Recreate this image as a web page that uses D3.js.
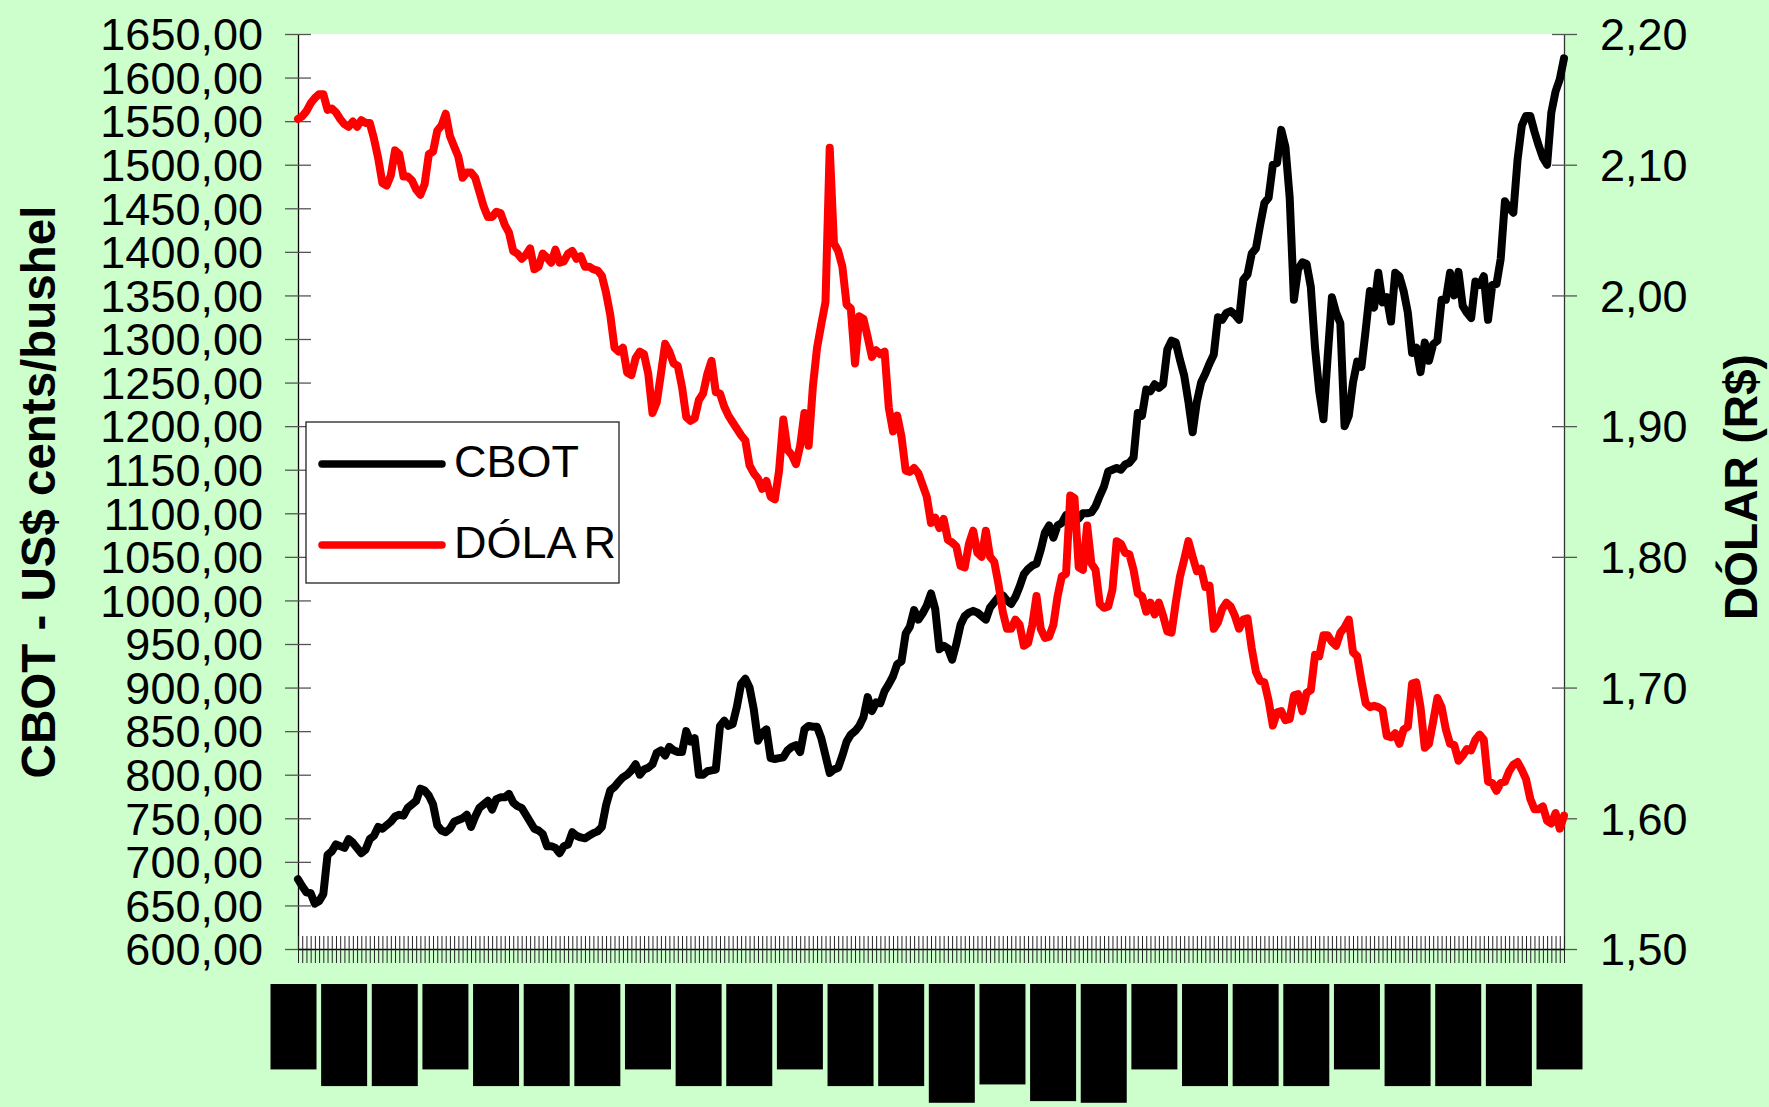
<!DOCTYPE html>
<html>
<head>
<meta charset="utf-8">
<script src="https://cdn.jsdelivr.net/npm/d3@7/dist/d3.min.js"></script>
<style>
  html, body { margin: 0; padding: 0; background: #CCFFCC; }
  svg { display: block; }
  text { font-family: "Liberation Sans", Arial, sans-serif; }
</style>
</head>
<body>
<svg id="chart" width="1769" height="1107"></svg>
<script>
// ---------------- DATA ----------------
const seriesNames = ["CBOT", "DÓLAR"];

const cbot = [
  680,672,665,664,652,655,663,708,712,720,718,716,726,722,716,710,714,726,730,740,
  738,742,746,752,754,753,762,766,770,784,782,776,766,742,736,734,738,746,748,750,
  754,740,752,762,766,770,760,772,774,774,778,768,764,762,754,746,738,736,732,718,
  718,716,710,718,720,734,730,728,727,730,733,735,740,765,782,786,792,797,800,805,
  812,800,806,808,812,825,828,822,832,828,826,826,850,838,842,800,800,804,805,806,
  856,862,856,858,878,904,910,900,875,839,848,852,819,818,819,820,828,832,834,826,
  852,856,855,855,842,822,802,806,808,822,838,846,850,856,866,889,873,883,882,896,
  904,913,927,930,962,970,989,978,985,994,1008,990,944,948,945,932,950,972,982,986,
  988,986,982,978,992,998,1004,1006,1000,996,1004,1016,1030,1036,1040,1042,1058,1078,1086,1072,
  1086,1089,1098,1096,1092,1094,1100,1100,1101,1108,1120,1131,1148,1150,1152,1150,1156,1158,1164,1215,
  1212,1242,1240,1248,1244,1248,1288,1298,1296,1276,1258,1228,1193,1228,1250,1260,1272,1282,1325,1322,
  1330,1332,1328,1322,1368,1374,1398,1404,1431,1456,1462,1500,1502,1540,1520,1462,1345,1380,1388,1386,
  1360,1290,1240,1208,1280,1348,1330,1318,1200,1212,1250,1274,1268,1310,1355,1336,1376,1342,1348,1320,
  1376,1372,1355,1330,1284,1290,1262,1296,1275,1294,1298,1345,1345,1376,1350,1377,1338,1330,1324,1366,
  1362,1372,1322,1362,1363,1392,1458,1450,1445,1506,1545,1556,1556,1538,1522,1508,1500,1560,1584,1598,
  1622
];

const dolar = [
  2.135,2.137,2.141,2.147,2.151,2.154,2.154,2.142,2.143,2.140,2.135,2.131,2.129,2.133,2.129,2.134,2.132,2.132,2.120,2.105,
  2.086,2.084,2.092,2.111,2.108,2.091,2.091,2.088,2.081,2.077,2.085,2.108,2.110,2.126,2.130,2.139,2.122,2.114,2.106,2.090,
  2.094,2.094,2.090,2.079,2.068,2.060,2.060,2.064,2.063,2.054,2.048,2.034,2.032,2.028,2.031,2.036,2.020,2.022,2.032,2.029,
  2.025,2.035,2.025,2.026,2.032,2.034,2.028,2.030,2.022,2.022,2.020,2.019,2.015,2.002,1.985,1.960,1.957,1.960,1.941,1.939,
  1.952,1.957,1.955,1.940,1.910,1.918,1.940,1.963,1.957,1.948,1.946,1.930,1.907,1.904,1.906,1.920,1.925,1.940,1.950,1.926,
  1.925,1.915,1.908,1.903,1.898,1.893,1.889,1.870,1.864,1.860,1.852,1.858,1.846,1.844,1.866,1.905,1.882,1.878,1.871,1.885,
  1.910,1.885,1.930,1.960,1.978,1.995,2.113,2.040,2.034,2.022,1.993,1.990,1.948,1.984,1.982,1.968,1.953,1.958,1.955,1.957,
  1.914,1.896,1.908,1.892,1.866,1.865,1.868,1.864,1.855,1.846,1.826,1.830,1.822,1.829,1.813,1.811,1.808,1.793,1.792,1.810,
  1.820,1.803,1.800,1.820,1.800,1.796,1.779,1.758,1.745,1.745,1.752,1.748,1.732,1.734,1.748,1.770,1.745,1.738,1.739,1.748,
  1.770,1.785,1.787,1.847,1.845,1.792,1.790,1.824,1.795,1.790,1.764,1.761,1.762,1.775,1.812,1.810,1.803,1.802,1.790,1.772,
  1.770,1.758,1.765,1.756,1.765,1.755,1.743,1.742,1.765,1.785,1.798,1.812,1.800,1.789,1.791,1.777,1.778,1.745,1.750,1.760,
  1.765,1.762,1.755,1.745,1.752,1.753,1.730,1.712,1.705,1.704,1.690,1.671,1.681,1.682,1.675,1.676,1.694,1.695,1.682,1.696,
  1.698,1.725,1.724,1.740,1.740,1.735,1.732,1.742,1.746,1.752,1.727,1.724,1.705,1.688,1.685,1.686,1.685,1.683,1.663,1.662,
  1.665,1.657,1.668,1.670,1.703,1.704,1.685,1.654,1.657,1.674,1.692,1.685,1.668,1.657,1.656,1.644,1.648,1.653,1.652,1.660,
  1.664,1.660,1.628,1.627,1.621,1.627,1.628,1.636,1.641,1.643,1.637,1.630,1.615,1.607,1.607,1.609,1.598,1.596,1.604,1.592,
  1.602
];

// category tick labels (one every 12 observations)
const dateLabels = [
  "2/1/07","24/1/07","15/2/07","9/3/07","30/3/07","23/4/07","14/5/07","5/6/07","27/6/07","18/7/07",
  "9/8/07","31/8/07","21/9/07","15/10/07","5/11/07","27/11/07","18/12/07","9/1/08","31/1/08","22/2/08",
  "14/3/08","7/4/08","29/4/08","21/5/08","12/6/08","2/7/08"
];
const labelStep = 12;

const leftTickValues = [600,650,700,750,800,850,900,950,1000,1050,1100,1150,1200,1250,1300,1350,1400,1450,1500,1550,1600,1650];
const rightTickValues = [1.5,1.6,1.7,1.8,1.9,2.0,2.1,2.2];

const leftTitle = "CBOT - US$ cents/bushel";
const rightTitle = "DÓLAR (R$)";

// ---------------- LAYOUT ----------------
const W = 1769, H = 1107;
const plot = { left: 298, right: 1564, top: 34, bottom: 949 };
const svg = d3.select("#chart");

svg.append("rect").attr("x", 0).attr("y", 0).attr("width", W).attr("height", H).attr("fill", "#CCFFCC");
svg.append("rect")
  .attr("x", plot.left).attr("y", plot.top)
  .attr("width", plot.right - plot.left).attr("height", plot.bottom - plot.top)
  .attr("fill", "#FFFFFF");

const n = cbot.length;
const x = d3.scaleLinear().domain([0, n - 1]).range([plot.left, plot.right]);
const yL = d3.scaleLinear().domain([600, 1650]).range([plot.bottom, plot.top]);
const yR = d3.scaleLinear().domain([1.5, 2.2]).range([plot.bottom, plot.top]);

const fmt2 = d => d.toFixed(2).replace(".", ",");

// Left axis
const gL = svg.append("g").attr("transform", `translate(${plot.left},0)`)
  .call(d3.axisLeft(yL).tickValues(leftTickValues).tickSizeInner(13).tickSizeOuter(0).tickPadding(22).tickFormat(fmt2));
gL.select(".domain").attr("stroke", "#000").attr("stroke-width", 1.3);
gL.selectAll(".tick line").attr("x1", 13).attr("stroke", "#555").attr("stroke-width", 1.3);
gL.selectAll(".tick text").attr("font-size", 45).attr("fill", "#000").attr("dy", "0.35em")
  .style("font-family", "'Liberation Sans', Arial, sans-serif");

// Right axis
const gR = svg.append("g").attr("transform", `translate(${plot.right},0)`)
  .call(d3.axisRight(yR).tickValues(rightTickValues).tickSizeInner(13).tickSizeOuter(0).tickPadding(23).tickFormat(fmt2));
gR.select(".domain").attr("stroke", "#333").attr("stroke-width", 1.3);
gR.selectAll(".tick line").attr("x1", -12).attr("stroke", "#555").attr("stroke-width", 1.3);
gR.selectAll(".tick text").attr("font-size", 45).attr("fill", "#000").attr("dy", "0.35em")
  .style("font-family", "'Liberation Sans', Arial, sans-serif");

// Bottom axis (category ticks)
const gB = svg.append("g").attr("transform", `translate(0,${plot.bottom})`)
  .call(d3.axisBottom(x).tickValues(d3.range(0, n)).tickSizeInner(14).tickSizeOuter(0).tickFormat(""));
gB.select(".domain").attr("stroke", "#000").attr("stroke-width", 1.3);
gB.selectAll(".tick line").attr("y1", -13).attr("stroke", "#222").attr("stroke-width", 1);

// Category labels (rendered as solid blocks like the reference)
const labelIdx = dateLabels.map((d, k) => k * labelStep);
const lg = svg.append("g").attr("class", "xlabels");
dateLabels.forEach((lab, k) => {
  const g = lg.append("g").attr("transform", `translate(${x(labelIdx[k]) - 4.5},984)`);
  const bg = g.append("rect").attr("x", -23).attr("y", 0).attr("width", 46).attr("fill", "#000");
  const t = g.append("text")
    .attr("transform", "rotate(-90)")
    .attr("text-anchor", "end")
    .attr("dy", "0.35em")
    .attr("font-size", 30)
    .attr("font-weight", "bold")
    .attr("fill", "#000")
    .text(lab);
  const len = t.node().getComputedTextLength();
  bg.attr("height", len + 2);
});

// Lines
const lineL = d3.line().x((d, i) => x(i)).y(d => yL(d));
const lineR = d3.line().x((d, i) => x(i)).y(d => yR(d));
svg.append("path").datum(cbot).attr("d", lineL)
  .attr("fill", "none").attr("stroke", "#000").attr("stroke-width", 8)
  .attr("stroke-linejoin", "round").attr("stroke-linecap", "round");
svg.append("path").datum(dolar).attr("d", lineR)
  .attr("fill", "none").attr("stroke", "#FF0000").attr("stroke-width", 8)
  .attr("stroke-linejoin", "round").attr("stroke-linecap", "round");

// Axis titles
svg.append("text")
  .attr("transform", "translate(55,492) rotate(-90)")
  .attr("text-anchor", "middle").attr("font-size", 47.5).attr("font-weight", "bold").attr("fill", "#000")
  .text(leftTitle);
svg.append("text")
  .attr("transform", "translate(1757,487) rotate(-90)")
  .attr("text-anchor", "middle").attr("font-size", 46).attr("font-weight", "bold").attr("fill", "#000")
  .text(rightTitle);

// Legend
const leg = svg.append("g");
leg.append("rect").attr("x", 306).attr("y", 422).attr("width", 313).attr("height", 161)
  .attr("fill", "#fff").attr("stroke", "#222").attr("stroke-width", 1.3);
const legendColors = ["#000", "#FF0000"];
seriesNames.forEach((name, k) => {
  const cy = 464 + k * 81;
  leg.append("line").attr("x1", 322).attr("x2", 442).attr("y1", cy).attr("y2", cy)
    .attr("stroke", legendColors[k]).attr("stroke-width", 7.5).attr("stroke-linecap", "round");
  const t = leg.append("text").attr("x", 454).attr("y", cy + 13).attr("font-size", 45).attr("fill", "#000");
  if (name === "DÓLAR") {
    t.append("tspan").text("DÓLA");
    t.append("tspan").attr("dx", 7).text("R");
  } else {
    t.text(name);
  }
});
</script>
</body>
</html>
